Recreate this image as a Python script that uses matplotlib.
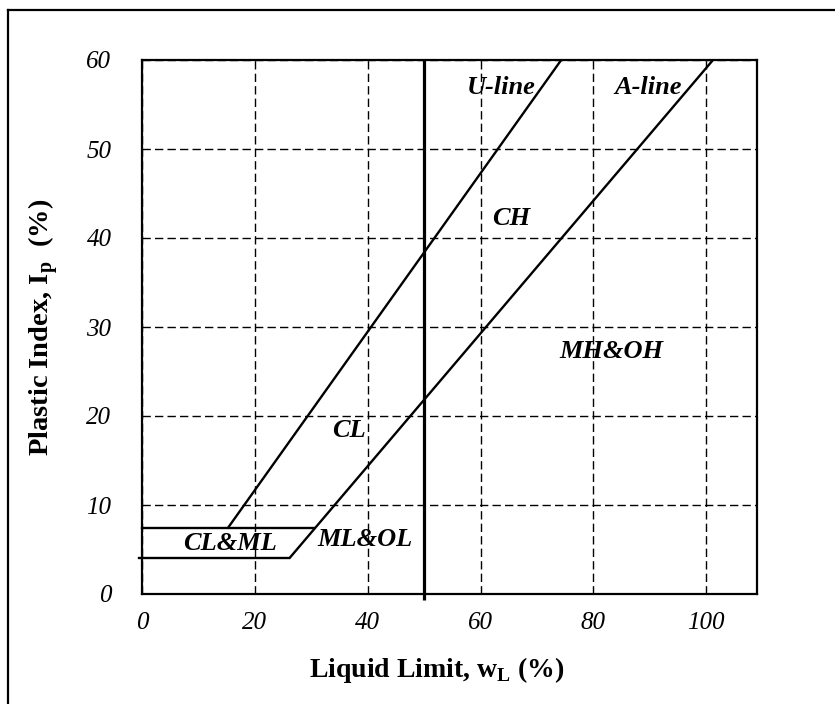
import matplotlib
matplotlib.use("Agg")
import matplotlib.pyplot as plt
from matplotlib.lines import Line2D

# ---- data ----
x_ticks = [0, 20, 40, 60, 80, 100]
y_ticks = [0, 10, 20, 30, 40, 50, 60]

u_line_ll = [15.2, 74.3]
u_line_pi = [7.4, 60.0]

a_line_ll = [26.1, 101.2]
a_line_pi = [4.0, 60.0]

upper_band_ll = [0.0, 30.5]
upper_band_pi = [7.4, 7.4]
lower_band_ll = [-0.5, 26.1]
lower_band_pi = [4.0, 4.0]

boundary_ll = 50
boundary_pi = [-0.7, 60]

region_names = ["U-line", "A-line", "CH", "MH&OH", "CL", "ML&OL", "CL&ML"]
region_ll = [63.6, 89.7, 65.4, 83.1, 36.6, 39.6, 15.6]
region_pi = [56.9, 56.9, 42.2, 27.2, 18.4, 6.1, 5.7]

plt.rcParams['font.family'] = ['Liberation Serif', 'DejaVu Serif']
plt.rcParams['mathtext.fontset'] = 'custom'
plt.rcParams['mathtext.rm'] = 'Liberation Serif:bold'

fig = plt.figure(figsize=(8.35, 7.04), dpi=100)
ax = fig.add_axes([142/835, 1-594/704, (757-142)/835, (594-60)/704])

ax.set_xlim(0, 109)
ax.set_ylim(0, 60)

for s in ax.spines.values():
    s.set_linewidth(1.6)
    s.set_color('black')

ax.set_xticks(x_ticks)
ax.set_yticks(y_ticks)
ax.tick_params(length=0, labelsize=18)
ax.tick_params(axis='x', pad=13)
ax.tick_params(axis='y', pad=22)
for lab in ax.get_xticklabels() + ax.get_yticklabels():
    lab.set_fontstyle('italic')

ax.grid(True, color='black', linestyle=(0, (6, 3)), linewidth=1.0)

lw = 1.7
ax.plot(u_line_ll, u_line_pi, color='black', lw=lw, solid_capstyle='butt')
ax.plot(a_line_ll, a_line_pi, color='black', lw=lw, solid_capstyle='butt')
ax.plot(upper_band_ll, upper_band_pi, color='black', lw=lw, clip_on=False)
ax.plot(lower_band_ll, lower_band_pi, color='black', lw=lw, clip_on=False)
ax.plot([boundary_ll, boundary_ll], boundary_pi, color='black', lw=2.3,
        clip_on=False, solid_capstyle='butt')

for name, xx, yy in zip(region_names, region_ll, region_pi):
    ax.text(xx, yy, name, ha='center', va='center', fontsize=19,
            fontweight='bold', fontstyle='italic')

ax.set_xlabel(r"Liquid Limit, w$_\mathregular{L}$ (%)", fontsize=20,
              fontweight='bold')
ax.xaxis.set_label_coords(0.48, -0.115)
ax.set_ylabel(r"Plastic Index, I$_\mathregular{p}$  (%)", fontsize=20.5,
              fontweight='bold', labelpad=18)

# figure frame (top and left edges visible; the rest is cropped)
fx = 8/835
fy = 1 - 10/704
fig.add_artist(Line2D([fx, 1.0], [fy, fy], color='black', lw=1.6,
                      transform=fig.transFigure))
fig.add_artist(Line2D([fx, fx], [0.0, fy], color='black', lw=1.6,
                      transform=fig.transFigure))

fig.savefig("out.png", dpi=100)
